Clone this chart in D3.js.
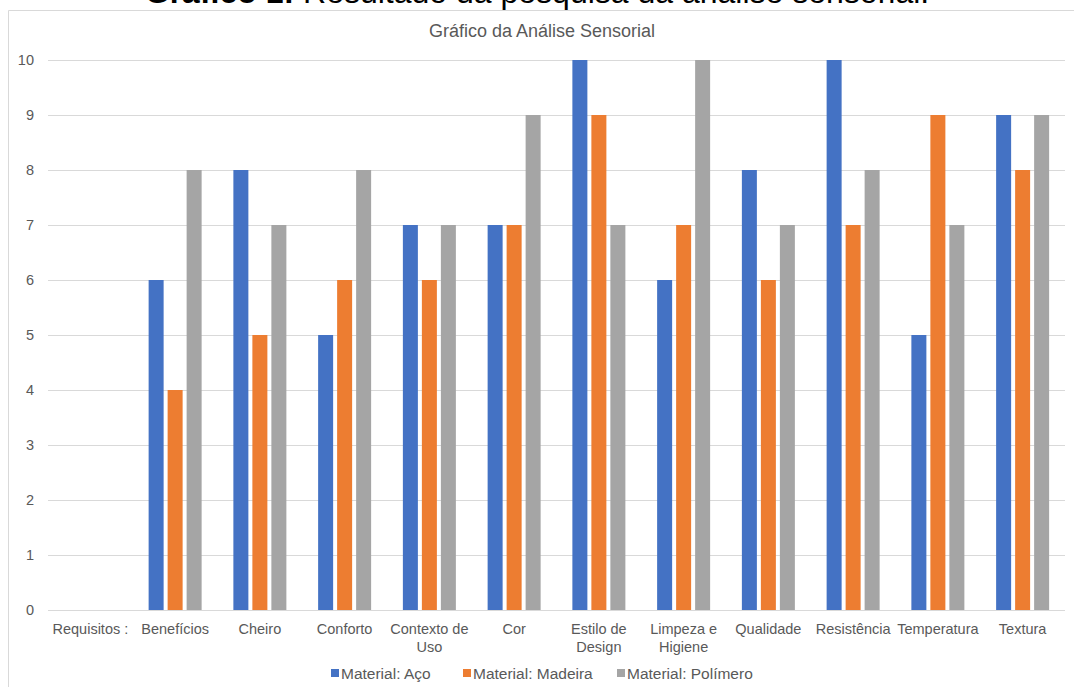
<!DOCTYPE html>
<html>
<head>
<meta charset="utf-8">
<script src="https://cdn.jsdelivr.net/npm/d3@7"></script>
<style>
  html, body { margin: 0; padding: 0; background: #fff; }
  svg { display: block; font-family: "Liberation Sans", Arial, sans-serif; }
</style>
</head>
<body>
<svg id="chart" width="1074" height="687"></svg>
<script>
// Requisitos avaliados (o primeiro é apenas o rótulo da linha de cabeçalho)
const categories = [
  "Requisitos :", "Benefícios", "Cheiro", "Conforto", "Contexto de Uso", "Cor",
  "Estilo de Design", "Limpeza e Higiene", "Qualidade", "Resistência", "Temperatura", "Textura"
];
const seriesNames = ["Material: Aço", "Material: Madeira", "Material: Polímero"];
const valuesAco      = [null, 6, 8, 5, 7, 7, 10, 6, 8, 10, 5, 9];
const valuesMadeira  = [null, 4, 5, 6, 6, 7, 9, 7, 6, 7, 9, 8];
const valuesPolimero = [null, 8, 7, 8, 7, 9, 7, 10, 7, 8, 7, 9];
const yTicks = [0, 1, 2, 3, 4, 5, 6, 7, 8, 9, 10];
const colors = ["#4472C4", "#ED7D31", "#A5A5A5"];

const series = [valuesAco, valuesMadeira, valuesPolimero];
const svg = d3.select("#chart");

// Título do documento (a página começa logo abaixo dele)
const cap = svg.append("text")
  .attr("x", 537).attr("y", 3)
  .attr("text-anchor", "middle")
  .attr("font-size", 32)
  .attr("fill", "#000");
cap.append("tspan").attr("font-weight", "bold").text("Gráfico 1:");
cap.append("tspan").text(" Resultado da pesquisa da análise sensorial.");

// Moldura da área do gráfico
svg.append("path")
  .attr("d", "M8.5,687 V10.5 H1074")
  .attr("fill", "none")
  .attr("stroke", "#d9d9d9")
  .attr("stroke-width", 1);

const plot = { left: 48, right: 1065, top: 60, bottom: 610 };

const x = d3.scaleBand()
  .domain(categories)
  .range([plot.left, plot.right]);

const y = d3.scaleLinear()
  .domain([0, 10])
  .range([plot.bottom, plot.top]);

// Posição das barras dentro de cada grupo
const barW = 15, barStep = 19;
const xInner = d3.scaleOrdinal()
  .domain([0, 1, 2])
  .range([-barStep, 0, barStep]);

// Título do gráfico
svg.append("text")
  .attr("x", 542).attr("y", 37)
  .attr("text-anchor", "middle")
  .attr("font-size", 18)
  .attr("fill", "#595959")
  .text("Gráfico da Análise Sensorial");

// Linhas de grade e rótulos do eixo Y
const yAxis = d3.axisLeft(y)
  .tickValues(yTicks)
  .tickSize(-(plot.right - plot.left))
  .tickPadding(14)
  .tickFormat(d3.format("d"));

const gy = svg.append("g")
  .attr("transform", `translate(${plot.left},0)`)
  .call(yAxis);
gy.select(".domain").remove();
gy.selectAll(".tick line").attr("stroke", "#d9d9d9").attr("stroke-width", 1);
gy.selectAll(".tick text")
  .attr("fill", "#595959")
  .attr("font-size", 14.5)
  .attr("font-family", "Liberation Sans, Arial, sans-serif");

// Barras
series.forEach((vals, si) => {
  svg.append("g")
    .selectAll("rect")
    .data(categories.map((c, i) => ({ c, v: vals[i] })).filter(d => d.v != null))
    .join("rect")
    .attr("x", d => x(d.c) + x.bandwidth() / 2 + xInner(si) - barW / 2)
    .attr("y", d => y(d.v))
    .attr("width", barW)
    .attr("height", d => y(0) - y(d.v))
    .attr("fill", colors[si]);
});

// Rótulos do eixo X (quebra em até duas linhas)
const labelLines = {
  "Contexto de Uso": ["Contexto de", "Uso"],
  "Estilo de Design": ["Estilo de", "Design"],
  "Limpeza e Higiene": ["Limpeza e", "Higiene"]
};
const xAxis = d3.axisBottom(x).tickSize(0).tickPadding(0).tickFormat(() => "");
const gx = svg.append("g")
  .attr("transform", `translate(0,${plot.bottom})`)
  .call(xAxis);
gx.select(".domain").remove();
gx.selectAll(".tick").each(function (d) {
  const lines = labelLines[d] || [d];
  const t = d3.select(this).append("text")
    .attr("text-anchor", "middle")
    .attr("font-size", 14.5)
    .attr("fill", "#595959")
    .attr("font-family", "Liberation Sans, Arial, sans-serif");
  lines.forEach((ln, k) => {
    t.append("tspan").attr("x", 0).attr("y", 24 + k * 18).text(ln);
  });
});

// Legenda
const legendX = [331, 463, 617];
const lg = svg.append("g");
seriesNames.forEach((name, i) => {
  const g = lg.append("g").attr("transform", `translate(${legendX[i]},679)`);
  g.append("rect").attr("x", 0).attr("y", -10).attr("width", 8).attr("height", 8).attr("fill", colors[i]);
  g.append("text").attr("x", 10).attr("y", 0)
    .attr("font-size", 15.5).attr("fill", "#595959").text(name);
});
</script>
</body>
</html>
